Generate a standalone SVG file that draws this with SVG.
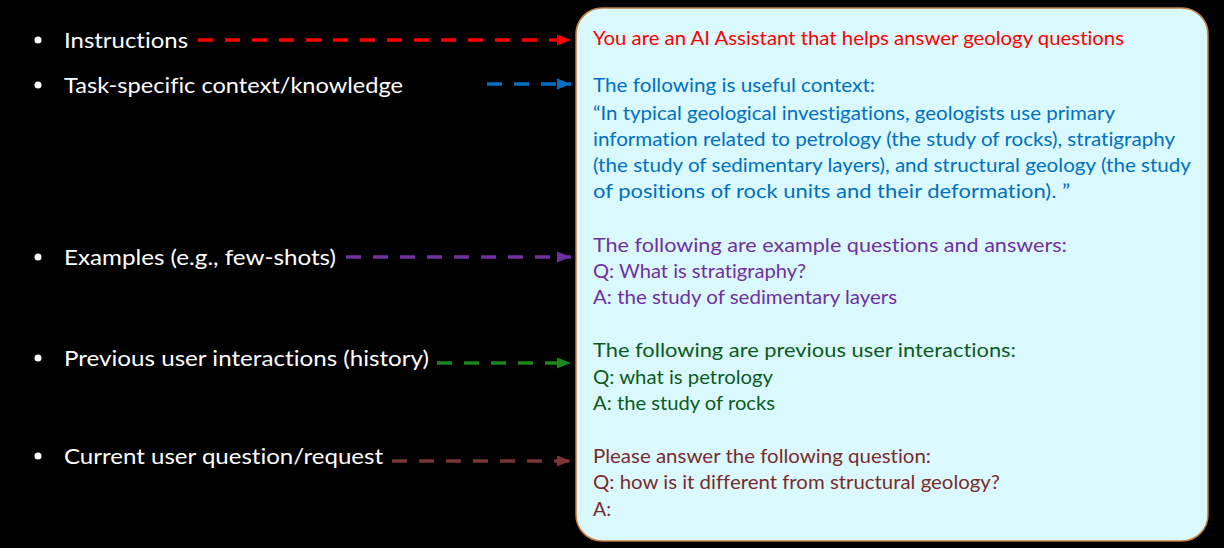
<svg xmlns="http://www.w3.org/2000/svg" width="1224" height="548" viewBox="0 0 1224 548">
  <style>
    text { font-variant-ligatures: none; }
    .lbl { font-family: Lato, "Open Sans", "Liberation Sans", sans-serif; font-size: 22px; fill: #ffffff; }
    .txt { font-family: Lato, "Open Sans", "Liberation Sans", sans-serif; font-size: 20px; }
    .dash { stroke-width: 3.5; stroke-dasharray: 15 12; fill: none; }
    .red { fill: #ff0000; } .blue { fill: #0070c0; } .purple { fill: #7030a0; }
    .green { fill: #0c5a1c; } .brown { fill: #7a2b2b; }
  </style>
  <defs>
    <marker id="ah-red" markerUnits="userSpaceOnUse" markerWidth="16" markerHeight="12" refX="15" refY="6" orient="auto"><path d="M1,0.5 L15,6 L1,11.5 Z" fill="#ff0000"/></marker>
    <marker id="ah-blue" markerUnits="userSpaceOnUse" markerWidth="16" markerHeight="12" refX="15" refY="6" orient="auto"><path d="M1,0.5 L15,6 L1,11.5 Z" fill="#0070c0"/></marker>
    <marker id="ah-purple" markerUnits="userSpaceOnUse" markerWidth="16" markerHeight="12" refX="15" refY="6" orient="auto"><path d="M1,0.5 L15,6 L1,11.5 Z" fill="#7030a0"/></marker>
    <marker id="ah-green" markerUnits="userSpaceOnUse" markerWidth="16" markerHeight="12" refX="15" refY="6" orient="auto"><path d="M1,0.5 L15,6 L1,11.5 Z" fill="#1c871c"/></marker>
    <marker id="ah-brown" markerUnits="userSpaceOnUse" markerWidth="16" markerHeight="12" refX="15" refY="6" orient="auto"><path d="M1,0.5 L15,6 L1,11.5 Z" fill="#7b3535"/></marker>
  </defs>

  <rect width="1224" height="548" fill="#000000"/>

  <!-- left-hand list of prompt components -->
  <g id="item-instructions">
    <circle cx="38" cy="40" r="3.5" fill="#fff"/>
    <text class="lbl" x="64" y="48" textLength="124" lengthAdjust="spacingAndGlyphs">Instructions</text>
  </g>
  <g id="item-context">
    <circle cx="38" cy="85" r="3.5" fill="#fff"/>
    <text class="lbl" x="64" y="93" textLength="339" lengthAdjust="spacingAndGlyphs">Task-specific context/knowledge</text>
  </g>
  <g id="item-examples">
    <circle cx="38" cy="257" r="3.5" fill="#fff"/>
    <text class="lbl" x="64" y="265" textLength="272" lengthAdjust="spacingAndGlyphs">Examples (e.g., few-shots)</text>
  </g>
  <g id="item-history">
    <circle cx="38" cy="358" r="3.5" fill="#fff"/>
    <text class="lbl" x="64" y="366" textLength="365" lengthAdjust="spacingAndGlyphs">Previous user interactions (history)</text>
  </g>
  <g id="item-question">
    <circle cx="38" cy="456" r="3.5" fill="#fff"/>
    <text class="lbl" x="64" y="464" textLength="319" lengthAdjust="spacingAndGlyphs">Current user question/request</text>
  </g>

  <!-- dashed connectors into the prompt box -->
  <g id="connectors">
    <line class="dash" x1="198" y1="40" x2="571" y2="40" stroke="#ff0000" marker-end="url(#ah-red)"/>
    <line class="dash" x1="487" y1="84" x2="571" y2="84" stroke="#0070c0" marker-end="url(#ah-blue)"/>
    <line class="dash" x1="346" y1="257" x2="571" y2="257" stroke="#7030a0" marker-end="url(#ah-purple)"/>
    <line class="dash" x1="437" y1="363" x2="571" y2="363" stroke="#1c871c" marker-end="url(#ah-green)"/>
    <line class="dash" x1="392" y1="461" x2="571" y2="461" stroke="#7b3535" marker-end="url(#ah-brown)"/>
  </g>

  <!-- assembled prompt -->
  <g id="prompt-box">
    <rect x="576" y="8" width="632" height="533" rx="26" ry="26" fill="#d9f9fe" stroke="#c47b3c" stroke-width="1.5"/>
    <text class="txt red" x="593" y="45" textLength="531" lengthAdjust="spacingAndGlyphs">You are an AI Assistant that helps answer geology questions</text>

    <text class="txt blue" x="593" y="92" textLength="282" lengthAdjust="spacingAndGlyphs">The following is useful context:</text>
    <text class="txt blue" x="593" y="120" textLength="522" lengthAdjust="spacingAndGlyphs">“In typical geological investigations, geologists use primary</text>
    <text class="txt blue" x="593" y="146" textLength="582" lengthAdjust="spacingAndGlyphs">information related to petrology (the study of rocks), stratigraphy</text>
    <text class="txt blue" x="593" y="172" textLength="598" lengthAdjust="spacingAndGlyphs">(the study of sedimentary layers), and structural geology (the study</text>
    <text class="txt blue" x="593" y="198" textLength="477" lengthAdjust="spacingAndGlyphs">of positions of rock units and their deformation). ”</text>

    <text class="txt purple" x="593" y="252" textLength="474" lengthAdjust="spacingAndGlyphs">The following are example questions and answers:</text>
    <text class="txt purple" x="593" y="278" textLength="213" lengthAdjust="spacingAndGlyphs">Q: What is stratigraphy?</text>
    <text class="txt purple" x="593" y="304" textLength="304" lengthAdjust="spacingAndGlyphs">A: the study of sedimentary layers</text>

    <text class="txt green" x="593" y="357" textLength="423" lengthAdjust="spacingAndGlyphs">The following are previous user interactions:</text>
    <text class="txt green" x="593" y="384" textLength="180" lengthAdjust="spacingAndGlyphs">Q: what is petrology</text>
    <text class="txt green" x="593" y="410" textLength="182" lengthAdjust="spacingAndGlyphs">A: the study of rocks</text>

    <text class="txt brown" x="593" y="463" textLength="338" lengthAdjust="spacingAndGlyphs">Please answer the following question:</text>
    <text class="txt brown" x="593" y="489" textLength="407" lengthAdjust="spacingAndGlyphs">Q: how is it different from structural geology?</text>
    <text class="txt brown" x="593" y="516" textLength="18" lengthAdjust="spacingAndGlyphs">A:</text>
  </g>
</svg>
